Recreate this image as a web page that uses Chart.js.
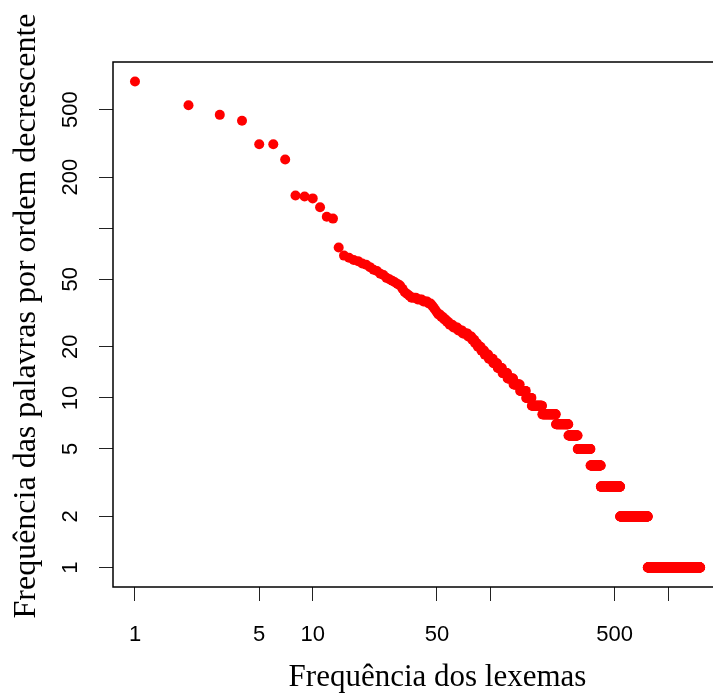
<!DOCTYPE html>
<html>
<head>
<meta charset="utf-8">
<script src="https://cdn.jsdelivr.net/npm/chart.js@4"></script>
<style>
  html, body { margin: 0; padding: 0; background: #fff; overflow: hidden; }
  #wrap { width: 713px; height: 693px; overflow: hidden; }
</style>
</head>
<body>
<div id="wrap"><canvas id="plot" width="780" height="693"></canvas></div>
<script>
/* frequency spectrum: each distinct frequency and how many lexemes have it */
const freqValues = [733, 531, 466, 430, 313, 254, 156, 154, 150, 133, 117, 114,
  77, 69, 67, 65, 64, 62, 61, 59, 57, 56, 54, 53, 51, 50, 49, 48, 47, 46, 44, 42, 41, 40,
  39, 38, 37, 36, 35, 34, 33, 32, 31, 30, 29, 28, 27, 26, 25, 24, 23, 22, 21, 20,
  19, 18, 17, 16, 15, 14, 13, 12, 11, 10, 9, 8, 7, 6, 5, 4, 3, 2, 1];
const wordCounts = [1, 1, 1, 1, 2, 1, 1, 1, 1, 1, 1, 1,
  1, 1, 1, 1, 1, 1, 1, 1, 1, 1, 1, 1, 1, 1, 1, 1, 1, 1, 1, 1, 1, 1,
  3, 3, 3, 2, 1, 1, 1, 1, 2, 2, 2, 2, 3, 4, 4, 5, 4, 3, 3, 4,
  4, 5, 6, 6, 7, 8, 10, 12, 12, 12, 25, 38, 41, 35, 56, 52, 119, 231, 746];

const xTickValues = [1, 5, 10, 50, 100, 500, 1000];
const xTickLabels = ['1', '5', '10', '50', '', '500', ''];
const yTickValues = [1, 2, 5, 10, 20, 50, 100, 200, 500];
const yTickLabels = ['1', '2', '5', '10', '20', '50', '', '200', '500'];

const X_TITLE = 'Frequência dos lexemas';
const Y_TITLE = 'Frequência das palavras por ordem decrescente';

/* rank order: lexemes sorted by decreasing frequency */
const points = [];
let rank = 0;
freqValues.forEach((f, i) => {
  for (let k = 0; k < wordCounts[i]; k++) {
    rank += 1;
    points.push({ x: rank, y: f });
  }
});

const SANS  = 'Liberation Sans, Arial, sans-serif';
const SERIF = 'Liberation Serif, Times New Roman, serif';

/* R-style box, vertical y tick labels and y title */
const rStyle = {
  id: 'rStyle',
  afterDraw(chart) {
    const { ctx, chartArea: a } = chart;
    const ys = chart.scales.y;
    ctx.save();
    ctx.strokeStyle = '#000';
    ctx.lineWidth = 1.5;
    ctx.strokeRect(a.left, a.top, a.right - a.left, a.bottom - a.top);

    ctx.fillStyle = '#000';
    ctx.font = '22px ' + SANS;
    ctx.textAlign = 'center';
    ctx.textBaseline = 'middle';
    yTickValues.forEach((v, i) => {
      if (!yTickLabels[i]) return;
      ctx.save();
      ctx.translate(71, ys.getPixelForValue(v));
      ctx.rotate(-Math.PI / 2);
      ctx.fillText(yTickLabels[i], 0, 0);
      ctx.restore();
    });

    ctx.font = '32px ' + SERIF;
    ctx.textBaseline = 'alphabetic';
    ctx.translate(35, 316);
    ctx.rotate(-Math.PI / 2);
    ctx.fillText(Y_TITLE, 0, 0);
    ctx.restore();
  }
};

new Chart(document.getElementById('plot'), {
  type: 'scatter',
  data: {
    datasets: [{
      data: points,
      backgroundColor: '#ff0000',
      borderWidth: 0,
      pointRadius: 5,
      pointHoverRadius: 5,
    }],
  },
  options: {
    responsive: false,
    animation: false,
    events: [],
    layout: { padding: { top: 62, right: 18, left: 0, bottom: 0 } },
    plugins: { legend: { display: false }, tooltip: { enabled: false } },
    scales: {
      x: {
        type: 'logarithmic',
        min: 0.752, max: 3373,
        afterBuildTicks: s => { s.ticks = xTickValues.map(v => ({ value: v })); },
        afterFit: s => { s.height = 106; },
        border: { display: false },
        grid: { drawOnChartArea: false, drawTicks: true, tickLength: 14, color: '#222', lineWidth: 1 },
        ticks: {
          autoSkip: false, maxRotation: 0, minRotation: 0, padding: 21,
          color: '#000', font: { family: SANS, size: 22 },
          callback: (v, i) => xTickLabels[i],
        },
        title: {
          display: true, text: X_TITLE, color: '#000',
          font: { family: SERIF, size: 31, lineHeight: 1 },
          padding: { top: 0, bottom: 0 },
        },
      },
      y: {
        type: 'logarithmic',
        min: 0.768, max: 955,
        afterBuildTicks: s => { s.ticks = yTickValues.map(v => ({ value: v })); },
        afterFit: s => { s.width = 113; },
        border: { display: false },
        grid: { drawOnChartArea: false, drawTicks: true, tickLength: 14, color: '#222', lineWidth: 1 },
        ticks: { display: false },
        title: { display: false },
      },
    },
  },
  plugins: [rStyle],
});
</script>
</body>
</html>
